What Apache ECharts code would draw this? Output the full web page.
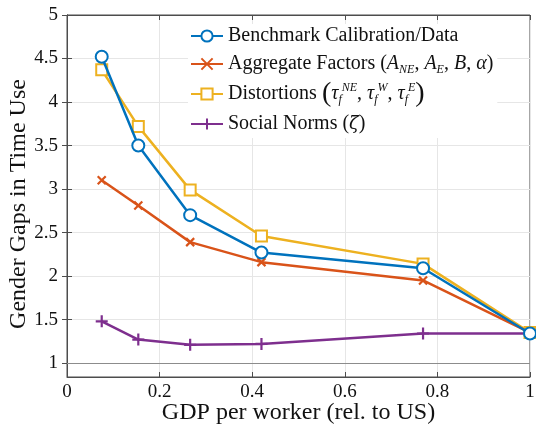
<!DOCTYPE html>
<html>
<head>
<meta charset="utf-8">
<script src="https://cdn.jsdelivr.net/npm/echarts@6/dist/echarts.min.js"></script>
<style>
  html, body { margin: 0; padding: 0; background: #fff; }
  #main { width: 536px; height: 429px; }
</style>
</head>
<body>
<div id="main"></div>
<script>
// GDP per worker relative to US (x positions of countries groups)
var gdpRel = [0.075, 0.154, 0.266, 0.42, 0.769, 1.0]

// gender gaps in time use, one array per model
var benchmark = [4.52, 3.50, 2.70, 2.27, 2.09, 1.34]
var aggregate = [3.10, 2.81, 2.39, 2.16, 1.95, 1.35]
var distortions = [4.37, 3.72, 2.99, 2.46, 2.14, 1.35]
var socialNorms = [1.48, 1.27, 1.21, 1.22, 1.34, 1.34]

var yTicks = [1, 1.5, 2, 2.5, 3, 3.5, 4, 4.5, 5]
var xTicks = [0, 0.2, 0.4, 0.6, 0.8, 1]

var seriesNames = ['Benchmark', 'Aggregate', 'Distortions', 'Social']
var colors = ['#0072BD', '#D95319', '#EDB120', '#7E2F8E']

var font = 'Liberation Serif'

const pairs = (ys) => gdpRel.map((x, i) => [x, ys[i]])

// legend labels with sub/superscripts
const legendText = {
	Benchmark: 'Benchmark Calibration/Data',
	Aggregate: 'Aggregate Factors ({i|A}{sub|NE}, {i|A}{sub|E}, {i|B}, {i|α})',
	Distortions: 'Distortions {big|(}{i|τ}{sub|f}{sup|NE}, {i|τ}{sub|f}{sup|W}, {i|τ}{sub|f}{sup|E}{big|)}',
	Social: 'Social Norms ({zeta|\u03b6\u0304})'
}

var crossPath = 'path://M0,0L10,10M10,0L0,10'
var plusPath = 'path://M5,0L5,10M0,5L10,5'

const makeSeries = (name, data, idx, symbol, size) => ({
	name: name,
	type: 'line',
	data: pairs(data),
	symbol: symbol,
	symbolSize: size,
	showAllSymbol: true,
	lineStyle: { color: colors[idx], width: 2.5 },
	itemStyle: { color: colors[idx], borderColor: colors[idx], borderWidth: 2.2 },
	z: 10 - idx,
	emphasis: { disabled: true }
})

var series = [
	makeSeries('Benchmark', benchmark, 0, 'emptyCircle', 12),
	makeSeries('Aggregate', aggregate, 1, crossPath, 8),
	makeSeries('Distortions', distortions, 2, 'emptyRect', 11),
	makeSeries('Social', socialNorms, 3, plusPath, 12)
]
// reference line at y = 1
series[0].markLine = {
	silent: true,
	symbol: 'none',
	label: { show: false },
	lineStyle: { color: '#8c8c8c', width: 1.2, type: 'solid' },
	data: [{ yAxis: 1 }]
}

var txt = '#111'
var option = {
	animation: false,
	color: colors,
	grid: {
		left: 67, right: 6, top: 15, bottom: 52,
		containLabel: false,
		outerBoundsMode: 'none',
		show: true, borderColor: '#4d4d4d', borderWidth: 1
	},
	legend: {
		data: seriesNames,
		orient: 'vertical',
		left: 188,
		top: 24,
		itemWidth: 32,
		itemHeight: 14,
		itemGap: 4,
		backgroundColor: '#fff',
		padding: [0, 4, 2, 2],
		formatter: (name) => legendText[name],
		textStyle: {
			fontFamily: font, fontSize: 20, color: txt, lineHeight: 24,
			rich: {
				i: { fontFamily: font, fontStyle: 'italic', fontSize: 20, color: txt, lineHeight: 24 },
				sub: { fontFamily: font, fontStyle: 'italic', fontSize: 12, color: txt, lineHeight: 12, verticalAlign: 'bottom' },
				sup: { fontFamily: font, fontStyle: 'italic', fontSize: 12, color: txt, lineHeight: 12, verticalAlign: 'top' },
				big: { fontFamily: font, fontSize: 28, color: txt, lineHeight: 24 },
				zeta: { fontFamily: 'DejaVu Serif', fontStyle: 'italic', fontSize: 18, color: txt, lineHeight: 24 }
			}
		}
	},
	xAxis: [{
		type: 'value',
		min: 0, max: 1, interval: 0.2,
		name: 'GDP per worker (rel. to US)',
		nameLocation: 'middle',
		nameGap: 24,
		nameMoveOverlap: false,
		nameTextStyle: { fontFamily: font, fontSize: 24, color: txt },
		axisLine: { show: true, lineStyle: { color: '#4d4d4d' } },
		axisTick: { inside: true, length: 5, lineStyle: { color: '#4d4d4d' } },
		axisLabel: { fontFamily: font, fontSize: 19, color: txt, margin: 6,
			formatter: (v) => String(+v.toFixed(1)) },
		splitLine: { show: true, lineStyle: { color: '#e6e6e6' } }
	}, {
		type: 'value', position: 'top',
		min: 0, max: 1, interval: 0.2,
		axisLine: { show: true, lineStyle: { color: '#4d4d4d' } },
		axisTick: { inside: true, length: 5, lineStyle: { color: '#4d4d4d' } },
		axisLabel: { show: false },
		splitLine: { show: false }
	}],
	yAxis: [{
		type: 'value',
		min: 0.84, max: 5,
		name: 'Gender Gaps in Time Use',
		nameLocation: 'middle',
		nameGap: 36,
		nameMoveOverlap: false,
		nameTextStyle: { fontFamily: font, fontSize: 24, color: txt, padding: [0, 16, 0, 0] },
		axisLine: { show: true, lineStyle: { color: '#4d4d4d' } },
		axisTick: { inside: true, length: 5, customValues: yTicks, lineStyle: { color: '#4d4d4d' } },
		axisLabel: { fontFamily: font, fontSize: 19, color: txt, margin: 9, customValues: yTicks,
			formatter: (v) => String(v) },
		splitLine: { show: true, lineStyle: { color: '#e6e6e6' } }
	}, {
		type: 'value', position: 'right',
		min: 0.84, max: 5,
		axisLine: { show: true, lineStyle: { color: '#4d4d4d' } },
		axisTick: { inside: true, length: 5, customValues: yTicks, lineStyle: { color: '#4d4d4d' } },
		axisLabel: { show: false, customValues: yTicks },
		splitLine: { show: false }
	}],
	series: series
}

var myChart = echarts.init(document.getElementById('main'))
myChart.setOption(option)
</script>
</body>
</html>
